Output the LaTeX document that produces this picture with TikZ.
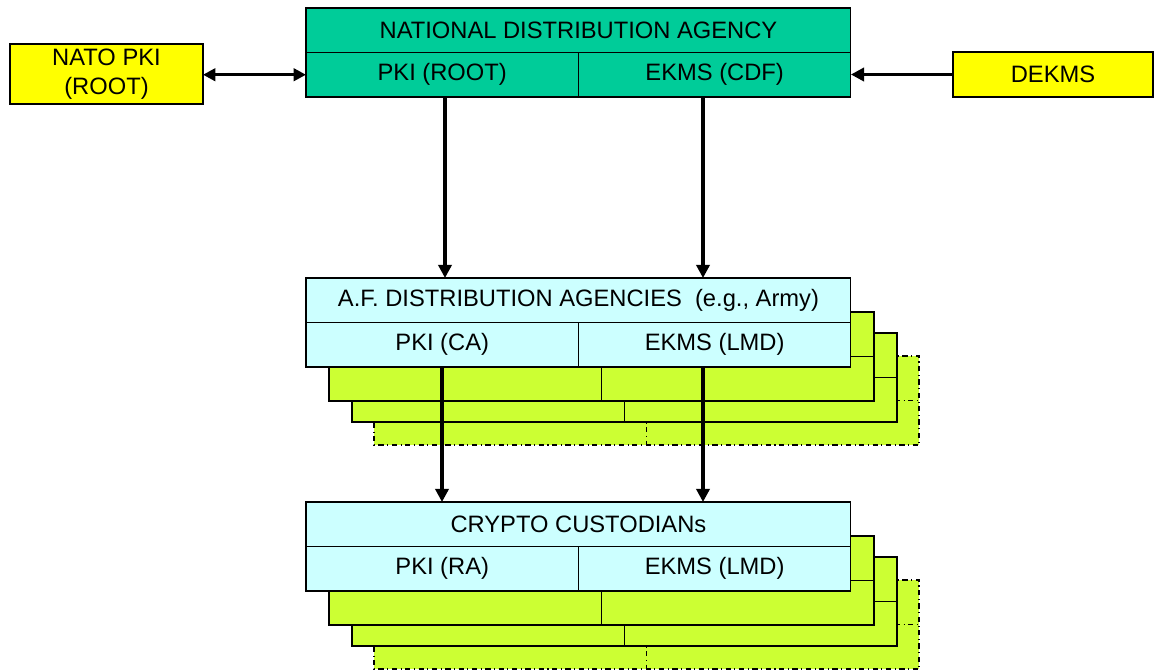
\documentclass[tikz,border=0pt]{standalone}
\usepackage{fontspec}
\setmainfont{Liberation Sans}
\usetikzlibrary{arrows.meta}
\usetikzlibrary{backgrounds}

\definecolor{ndagreen}{RGB}{0,204,153}
\definecolor{extyellow}{RGB}{255,255,0}
\definecolor{cellcyan}{RGB}{204,255,255}
\definecolor{layerlime}{RGB}{204,255,51}

\begin{document}
\begin{tikzpicture}[x=0.02cm,y=-0.02cm,
	cell/.style={draw=black, line width=0.6pt, rectangle, outer sep=0pt, inner sep=0pt,
		minimum width=5.45cm, minimum height=0.89cm, anchor=north west,
		font=\fontsize{13.5}{16.5}\selectfont},
	wide/.style={cell, minimum width=10.9cm},
	layer/.style={draw=black, line width=0.6pt, fill=layerlime},
	arr/.style={line width=2pt, -{Triangle[length=7.5pt,width=7.5pt]}},
	dblarr/.style={line width=1.8pt, {Triangle[length=7pt,width=7pt]}-{Triangle[length=7pt,width=7pt]}}]
	\useasboundingbox (0,0) rectangle (1154,670);
	
	% national level
	\node[wide, fill=ndagreen] (ndaTitle) at (306,8) {NATIONAL DISTRIBUTION AGENCY};
	\node[cell, fill=ndagreen] (ndaPki) at (ndaTitle.south west) {PKI (ROOT)};
	\node[cell, fill=ndagreen] (ndaEkms) at (ndaPki.north east) {EKMS (CDF)};
	
	\node[cell, fill=extyellow, anchor=center, minimum width=3.86cm, minimum height=1.2cm, align=center] (nato) at (106.5,74) {NATO PKI\\(ROOT)};
	\node[cell, fill=extyellow, anchor=center, minimum width=4cm, minimum height=0.9cm] (dekms) at (1053,74.5) {DEKMS};
	
	% armed forces level
	\node[wide, fill=cellcyan] (afTitle) at (306,278) {A.F. DISTRIBUTION AGENCIES\ \ (e.g., Army)};
	\node[cell, fill=cellcyan] (afPki) at (afTitle.south west) {PKI (CA)};
	\node[cell, fill=cellcyan] (afEkms) at (afPki.north east) {EKMS (LMD)};
	
	% custodians
	\node[wide, fill=cellcyan] (ccTitle) at (306,502) {CRYPTO CUSTODIANs};
	\node[cell, fill=cellcyan] (ccPki) at (ccTitle.south west) {PKI (RA)};
	\node[cell, fill=cellcyan] (ccEkms) at (ccPki.north east) {EKMS (LMD)};
	
	% stacked copies behind
	\begin{scope}[on background layer]
		\foreach \top in {afTitle, ccTitle} {
			\foreach \dx/\dy/\ls in {68/78/dash dot, 46/55/solid, 23/34/solid} {
				\filldraw[layer, \ls] ([shift={(\dx,\dy)}]\top.north west) rectangle ++(545,89);
				\draw[layer, \ls] ([shift={(\dx,\dy+44.5)}]\top.north west) -- ++(545,0)
				([shift={(\dx+272.5,\dy+44.5)}]\top.north west) -- ++(0,44.5);
			}
		}
	\end{scope}
	
	\coordinate (pkiX) at (445,0);
	\coordinate (ekmsX) at (703,0);
	\coordinate (pkiX2) at (442,0);
	
	\draw[dblarr] (nato.east |- ndaPki.west) -- (ndaPki.west);
	\draw[arr] (dekms.west) -- (dekms.west -| ndaEkms.east);
	\draw[arr] (ndaPki.south -| pkiX) -- (afTitle.north -| pkiX);
	\draw[arr] (ndaEkms.south -| ekmsX) -- (afTitle.north -| ekmsX);
	\draw[arr] (afPki.south -| pkiX2) -- (ccTitle.north -| pkiX2);
	\draw[arr] (afEkms.south -| ekmsX) -- (ccTitle.north -| ekmsX);
\end{tikzpicture}
\end{document}
